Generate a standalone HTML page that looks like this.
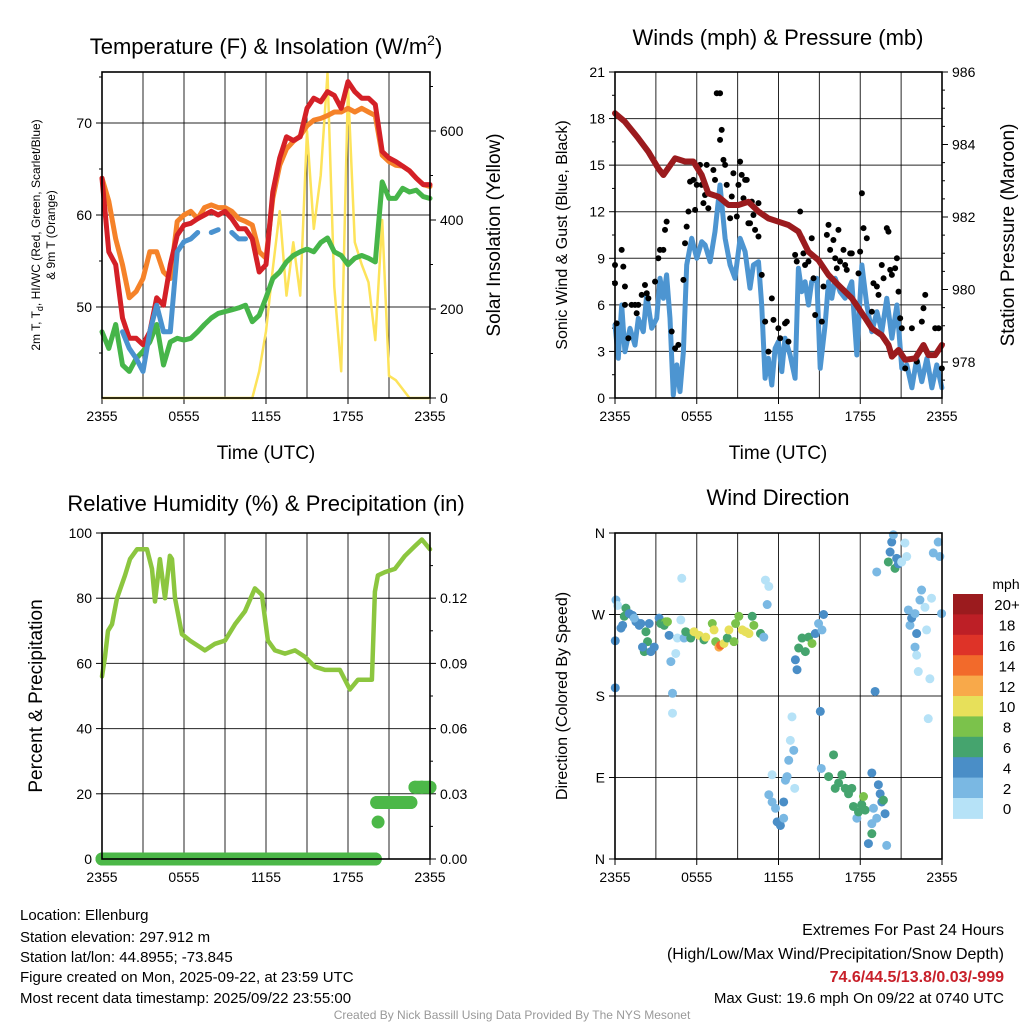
<!DOCTYPE html>
<html><head><meta charset="utf-8"><style>
html,body{margin:0;padding:0;background:#fff;}
svg{display:block;font-family:"Liberation Sans",sans-serif;}
</style></head><body>
<svg id="s" width="1024" height="1024" viewBox="0 0 1024 1024" xmlns="http://www.w3.org/2000/svg">
<g font-size="22" text-anchor="middle" fill="#000">
<text x="266" y="54">Temperature (F) &amp; Insolation (W/m<tspan dy="-9" font-size="14">2</tspan><tspan dy="9">)</tspan></text>
<text x="778" y="45">Winds (mph) &amp; Pressure (mb)</text>
<text x="266" y="511">Relative Humidity (%) &amp; Precipitation (in)</text>
<text x="778" y="505">Wind Direction</text>
</g>
<g fill="#000" text-anchor="middle">
<text x="266" y="459" font-size="19">Time (UTC)</text>
<text x="778" y="459" font-size="19">Time (UTC)</text>
<text transform="translate(40,235) rotate(-90)" font-size="12">2m T, T<tspan dy="3" font-size="9">d</tspan><tspan dy="-3">, HI/WC (Red, Green, Scarlet/Blue)</tspan></text>
<text transform="translate(55,235) rotate(-90)" font-size="12">&amp; 9m T (Orange)</text>
<text transform="translate(500,235) rotate(-90)" font-size="19">Solar Insolation (Yellow)</text>
<text transform="translate(567,235) rotate(-90)" font-size="16">Sonic Wind &amp; Gust (Blue, Black)</text>
<text transform="translate(1014,235) rotate(-90)" font-size="19">Station Pressure (Maroon)</text>
<text transform="translate(42,696) rotate(-90)" font-size="19">Percent &amp; Precipitation</text>
<text transform="translate(567,696) rotate(-90)" font-size="16">Direction (Colored By Speed)</text>
</g>
<g id="plots"></g>
<g font-size="15" fill="#000">
<text x="20" y="920">Location: Ellenburg</text>
<text x="20" y="942">Station elevation: 297.912 m</text>
<text x="20" y="962">Station lat/lon: 44.8955; -73.845</text>
<text x="20" y="982">Figure created on Mon, 2025-09-22, at 23:59 UTC</text>
<text x="20" y="1003">Most recent data timestamp: 2025/09/22 23:55:00</text>
</g>
<g font-size="16" fill="#000" text-anchor="end">
<text x="1004" y="935">Extremes For Past 24 Hours</text>
<text x="1004" y="959">(High/Low/Max Wind/Precipitation/Snow Depth)</text>
<text x="1004" y="982" fill="#c8202a" font-weight="bold">74.6/44.5/13.8/0.03/-999</text>
<text x="1004" y="1003" font-size="15">Max Gust: 19.6 mph On 09/22 at 0740 UTC</text>
</g>
<text x="512" y="1019" font-size="12" fill="#999" text-anchor="middle">Created By Nick Bassill Using Data Provided By The NYS Mesonet</text>
</svg>
<script>
// ---- data ----
const hours = [0,0.5,1,1.5,2,2.5,3,3.5,4,4.5,5,5.5,6,6.5,7,7.5,8,8.5,9,9.5,10,10.5,11,11.5,12,12.5,13,13.5,14,14.5,15,15.5,16,16.5,17,17.5,18,18.5,19,19.5,20,20.5,21,21.5,22,22.5,23,23.5,24];
const tempRed = [64.0,56.0,54.6,48.8,46.6,46.6,45.9,47.3,51.0,50.2,54.6,57.8,58.9,59.1,59.6,60.0,60.4,60.0,60.4,59.6,58.5,58.5,57.4,53.8,54.6,62.5,66.2,68.5,68.1,68.5,71.6,72.7,72.3,73.4,73.0,71.6,74.5,73.4,72.7,72.7,72.0,66.9,66.2,65.8,65.3,64.8,64.0,63.3,63.3];
const temp9m = [64.0,61.5,57.4,54.6,51.0,51.7,53.1,56.0,56.0,53.8,53.1,59.3,60.0,60.4,59.6,60.8,61.1,60.8,60.8,60.4,59.6,59.3,58.9,56.0,55.3,61.8,65.4,67.2,68.0,68.6,69.7,70.3,70.5,70.8,71.2,71.2,71.6,71.2,71.6,71.2,70.8,66.5,65.8,65.4,65.3,64.8,64.0,63.3,63.1];
const dewpoint = [47.3,45.5,48.1,43.7,43.0,44.4,45.2,46.2,48.1,43.7,46.2,46.6,46.4,46.6,47.3,48.1,48.8,49.3,49.5,49.7,49.9,50.2,48.4,49.1,51.0,53.1,53.8,54.9,55.6,56.0,56.3,56.0,57.0,57.5,56.0,55.6,54.6,55.3,55.6,55.3,54.9,63.6,61.8,61.8,62.9,62.5,62.7,62.0,61.8];
const heatIndex = [null,null,null,47.3,45.5,44.4,43.0,47.3,50.2,47.3,47.3,56.0,57.1,57.4,58.1,null,58.1,58.4,null,58.1,57.4,57.4,null,null,null,null,null,null,null,null,null,null,null,null,null,null,null,null,null,null,null,null,null,null,null,null,null,null,null];
const solar = [0,0,0,0,0,0,0,0,0,0,0,0,0,0,0,0,0,0,0,0,0,0,0,60,150,290,420,230,350,230,600,380,500,730,250,60,700,350,300,260,130,400,50,40,20,0,0,0,0];

const windTimes = [0,0.24,0.49,0.73,1.10,1.47,1.71,2.08,2.33,2.69,3.06,3.30,3.55,3.79,4.04,4.28,4.53,4.77,5.02,5.26,5.63,6.00,6.36,6.61,6.98,7.34,7.71,8.08,8.45,8.81,9.18,9.55,9.91,10.16,10.53,10.77,11.02,11.26,11.51,11.75,11.99,12.24,12.48,12.85,13.22,13.46,13.71,13.95,14.20,14.44,14.81,15.06,15.42,15.67,15.91,16.16,16.52,16.89,17.38,17.75,18.12,18.48,18.85,19.22,19.58,19.95,20.32,20.69,21.05,21.42,21.79,22.15,22.52,22.89,23.26,23.62,23.99];
const windSpeeds = [4.70,2.56,5.99,2.98,4.49,3.41,5.13,4.27,6.64,4.49,5.13,7.71,6.42,7.93,5.13,0.19,2.13,0.41,2.98,8.57,10.29,9.0,10.07,9.86,8.78,10.72,13.72,10.29,8.57,7.71,10.29,9.43,7.07,8.57,8.78,5.99,1.27,2.56,0.84,3.2,3.63,1.70,3.85,2.77,1.27,8.36,6.85,7.49,5.99,7.49,7.71,1.91,4.70,7.49,6.42,7.71,6.85,6.42,7.49,2.77,8.57,5.99,4.27,5.56,4.27,6.42,3.85,5.99,1.91,2.13,0.66,2.56,1.05,2.56,0.66,2.13,0.66];
const gustTimes = [0,0,0.12,0.49,0.61,0.73,0.73,0.98,1.22,1.47,1.59,1.71,1.96,2.20,2.33,2.45,2.94,3.18,3.30,3.55,3.67,3.79,4.16,4.41,4.65,5.02,5.14,5.26,5.39,5.51,5.75,5.88,6.00,6.24,6.36,6.49,6.61,6.73,6.85,7.22,7.34,7.47,7.71,7.71,7.83,7.96,8.08,8.20,8.45,8.57,8.69,8.94,9.06,9.18,9.30,9.43,9.55,9.67,9.79,9.91,10.04,10.16,10.28,10.53,10.53,10.77,11.02,11.26,11.51,11.63,11.99,12.12,12.48,12.61,12.73,13.22,13.34,13.59,13.71,13.83,13.95,14.20,14.44,14.57,14.69,15.18,15.30,15.55,15.67,15.79,16.03,16.16,16.28,16.40,16.52,16.77,16.89,17.01,17.26,17.38,17.87,17.99,18.12,18.24,18.48,18.85,18.97,19.22,19.34,19.58,19.71,19.95,20.07,20.20,20.32,20.56,20.69,20.81,20.93,21.05,21.30,21.79,22.15,22.52,22.64,22.77,23.50,23.75,23.99];
const gustSpeeds = [8.57,7.39,4.81,9.54,8.46,7.18,6.00,3.85,6.00,6.00,5.46,6.00,6.64,7.28,6.75,6.42,7.50,9.00,9.54,9.54,10.83,11.36,4.28,3.20,3.42,7.61,9.97,11.04,12.01,13.94,14.05,12.12,13.73,15.02,13.73,12.55,13.08,15.02,12.22,14.69,14.05,19.63,19.63,16.63,17.27,15.34,15.02,13.73,11.58,12.98,14.48,11.69,13.73,15.23,14.37,12.87,14.05,14.05,11.26,11.26,12.65,11.79,10.83,12.55,10.40,7.93,4.92,2.99,6.42,5.03,4.49,3.85,4.81,4.92,3.63,9.22,8.79,12.01,10.29,9.32,8.57,8.79,10.29,7.71,5.35,4.92,7.18,10.51,11.15,9.54,10.18,9.00,8.36,10.83,8.79,9.54,8.57,8.25,9.32,9.32,8.03,9.43,13.19,10.94,10.29,5.56,7.39,7.18,6.64,8.57,7.71,10.94,10.72,8.25,7.93,8.36,9.00,6.85,5.14,4.49,1.91,4.49,2.34,4.92,5.78,6.64,4.49,4.49,1.91];
const presTimes = [0,0.73,1.71,2.45,3.18,3.55,4.41,5.14,5.75,6.36,6.85,7.59,8.32,9.06,9.79,10.53,11.26,11.99,12.73,13.46,14.20,14.93,15.67,16.40,17.38,18.36,18.85,19.58,20.07,20.32,20.81,21.30,22.03,22.64,23.01,23.50,23.99];
const pressure = [984.86,984.63,984.17,983.80,983.34,983.16,983.62,983.53,983.53,983.16,982.65,982.56,982.33,982.33,982.42,982.15,981.96,981.87,981.78,981.60,981.04,980.81,980.40,980.12,979.76,979.21,978.93,978.74,978.47,978.15,978.33,978.06,978.10,978.47,978.19,978.19,978.47];

const rhTimes = [0,0.22,0.44,0.73,1.10,1.68,2.05,2.56,3.29,3.66,3.88,4.24,4.61,4.97,5.12,5.34,5.85,6.44,7.17,7.53,8.27,9.00,9.73,10.46,11.19,11.70,12.14,12.66,13.39,14.12,14.85,15.58,16.31,17.41,18.14,18.73,19.24,19.75,19.97,20.19,20.70,21.43,22.17,22.90,23.41,24];
const rhValues = [56,62,70,72,80,87,92,95,95,89,79,92,80,93,92,80,69,67,65,64,66,67,72,76,83,81,67,64,63,64,62,59,58,58,52,55,55,55,82,87,88,89,93,96,98,95];
const precipTimes = [0,1,2,3,4,5,6,7,8,9,10,11,12,13,14,15,16,17,18,19,20,20.2,20.1,20.6,21.1,21.6,22.1,22.6,22.9,23.4,24];
const precipValues = [0,0,0,0,0,0,0,0,0,0,0,0,0,0,0,0,0,0,0,0,0,0.017,0.026,0.026,0.026,0.026,0.026,0.026,0.033,0.033,0.033];

const dirTimes = [0.07,0.19,0.02,0.02,0.44,0.56,0.80,0.68,1.05,1.29,1.54,1.78,1.90,1.41,2.27,2.39,2.15,2.02,2.63,2.88,2.51,3.24,3.36,3.73,3.61,3.97,3.85,4.10,4.22,4.22,4.46,4.58,4.83,4.90,5.07,5.19,5.56,5.80,6.17,6.53,6.66,7.14,7.27,7.39,7.63,7.75,8.00,8.24,8.36,8.73,8.85,9.09,9.34,9.58,9.83,10.07,10.19,10.68,10.92,11.04,11.29,11.17,11.29,11.53,11.78,11.90,12.14,12.38,12.38,12.51,12.63,12.75,12.87,12.99,13.12,11.53,13.19,13.24,13.36,13.48,13.73,13.97,14.21,14.46,14.70,14.94,15.19,15.31,15.07,15.14,15.68,16.04,16.16,16.41,16.65,16.90,17.14,17.38,17.50,17.75,17.87,18.11,18.24,18.36,18.85,18.97,18.60,18.85,19.21,19.33,19.46,19.58,19.70,19.82,19.94,18.85,19.09,19.21,20.06,20.19,20.31,20.43,20.55,20.80,20.67,21.04,21.28,21.41,21.53,21.65,21.77,22.02,22.14,22.02,22.14,22.26,22.38,22.50,22.75,22.87,23.11,22.99,23.23,23.36,23.72,23.84,23.97];
const dirDegrees = [286,280,241,189,255,258,277,268,271,269,262,258,260,266,251,240,229,234,229,234,260,266,260,262,258,247,262,218,183,161,227,244,264,310,244,251,244,251,247,242,245,260,253,240,234,236,238,244,253,240,260,268,253,251,249,268,258,249,245,308,301,281,71,63,56,41,37,45,63,87,91,109,131,157,120,93,78,220,209,233,244,229,245,238,249,260,253,270,163,100,91,115,78,84,93,78,72,78,58,45,52,60,69,54,39,56,17,28,45,82,72,63,65,50,15,95,185,317,328,339,350,358,321,326,332,328,349,334,275,258,266,271,249,234,225,207,286,297,278,253,199,155,288,338,350,334,271];
const dirSpeeds = [3,1,5,5,5,5,7,7,5,5,5,5,5,3,7,7,7,5,5,5,5,5,7,9,7,5,9,3,3,1,1,1,1,1,3,7,7,11,11,7,11,9,11,9,13,14.5,11,7,11,9,9,9,11,11,11,7,9,7,3,1,1,3,3,3,3,5,5,3,5,3,3,3,1,1,3,1,1,5,5,7,7,7,7,9,5,3,3,5,5,3,7,7,7,7,7,7,7,7,7,3,7,7,9,7,3,3,5,7,3,5,5,5,7,5,3,5,5,3,7,5,5,3,7,5,5,1,1,1,3,3,5,3,5,3,1,1,3,3,1,1,1,1,1,3,3,3,3];

const speedBinLabels = ['0','2','4','6','8','10','12','14','16','18','20+'];
const speedBinColors = ['#b6e2f7','#7ab8e3','#4a8ec7','#45a46e','#7bc24b','#e7e05a','#f8a94a','#f26a2b','#de3328','#bd1f26','#9b1b1e'];
const xTickLabels = ['2355','0555','1155','1755','2355'];
const xTickHours = [0,6,12,18,24];

// ---- helpers ----
const NS='http://www.w3.org/2000/svg';
const root=document.getElementById('plots');
function mk(tag,attrs,parent){const e=document.createElementNS(NS,tag);for(const k in attrs)e.setAttribute(k,attrs[k]);(parent||root).appendChild(e);return e;}
function linPath(xs,ys,fx,fy){let d='',pen=false;for(let i=0;i<xs.length;i++){if(ys[i]==null){pen=false;continue;}d+=(pen?'L':'M')+fx(xs[i]).toFixed(1)+','+fy(ys[i]).toFixed(1);pen=true;}return d;}

function panel(name,x0,x1,y0,y1){
  const g=mk('g',{});
  
  
  const fx=h=>x0+h*(x1-x0)/24;
  // vertical grid every 3 h
  for(let h=3;h<24;h+=3){
    const l=mk('line',{x1:fx(h),x2:fx(h),y1:y0,y2:y1,stroke:'#000','stroke-width':1,opacity:0.85},g);
    
    
  }
  for(let i=0;i<xTickHours.length;i++){
    const x=fx(xTickHours[i]);
    mk('line',{x1:x,x2:x,y1:y1,y2:y1+6,stroke:'#000','stroke-width':1},g);
    const t=mk('text',{x:x,y:y1+23,'font-size':14,'text-anchor':'middle'},g);
    t.textContent=xTickLabels[i];
    
    
  }
  return {g,fx};
}
function frame(g,x0,x1,y0,y1){
  const r=mk('rect',{x:x0,y:y0,width:x1-x0,height:y1-y0,fill:'none',stroke:'#000','stroke-width':1.6},g);
  
  
}
function hgrid(g,x0,x1,y){mk('line',{x1:x0,x2:x1,y1:y,y2:y,stroke:'#000','stroke-width':1,opacity:0.85},g);}
function ytick(g,x,y,label,side,name){
  mk('line',{x1:side<0?x-6:x,x2:side<0?x:x+6,y1:y,y2:y,stroke:'#000','stroke-width':1},g);
  const t=mk('text',{x:side<0?x-10:x+10,y:y+5,'font-size':14,'text-anchor':side<0?'end':'start'},g);
  t.textContent=label;
  
  
}

// ---- Panel 1: temperature ----
(function(){
  const x0=102,x1=430,y0=72,y1=398;
  const {g,fx}=panel('temperature-panel',x0,x1,y0,y1);
  const fyT=T=>123+(70-T)*9.2;
  const fyS=W=>398-W*0.445;
  [70,60,50].forEach(v=>{hgrid(g,x0,x1,fyT(v));ytick(g,x0,fyT(v),String(v),-1,'temp-tick-label');});
  [0,200,400,600].forEach(v=>ytick(g,x1,fyS(v),String(v),1,'solar-tick-label'));
  for(let v=45;v<=75;v+=10) mk('line',{x1:x0-3,x2:x0,y1:fyT(v),y2:fyT(v),stroke:'#000'},g);
  for(let v=100;v<=700;v+=200) mk('line',{x1:x1,x2:x1+3,y1:fyS(v),y2:fyS(v),stroke:'#000'},g);
  const s=mk('path',{d:linPath(hours,solar,fx,fyS),fill:'none',stroke:'#fde35a','stroke-width':2.5,'stroke-linejoin':'round'},g);
  
  
  const gr=mk('path',{d:linPath(hours,dewpoint,fx,fyT),fill:'none',stroke:'#46b549','stroke-width':5,'stroke-linejoin':'round','stroke-linecap':'round'},g);
  
  
  const o=mk('path',{d:linPath(hours,temp9m,fx,fyT),fill:'none',stroke:'#f58229','stroke-width':5,'stroke-linejoin':'round','stroke-linecap':'round'},g);
  
  
  const r=mk('path',{d:linPath(hours,tempRed,fx,fyT),fill:'none',stroke:'#d42027','stroke-width':5,'stroke-linejoin':'round','stroke-linecap':'round'},g);
  
  
  const b=mk('path',{d:linPath(hours,heatIndex,fx,fyT),fill:'none',stroke:'#4a92cf','stroke-width':5,'stroke-linejoin':'round','stroke-linecap':'round'},g);
  
  
  frame(g,x0,x1,y0,y1);
})();

// ---- Panel 2: winds & pressure ----
(function(){
  const x0=615,x1=942,y0=72,y1=398;
  const {g,fx}=panel('winds-panel',x0,x1,y0,y1);
  const fyW=s=>398-s*(326/21);
  const fyP=p=>72+(986-p)*36.25;
  for(let v=0;v<=21;v+=3){ if(v>0&&v<21) hgrid(g,x0,x1,fyW(v)); ytick(g,x0,fyW(v),String(v),-1,'wind-tick-label'); }
  for(let v=1.5;v<21;v+=3) mk('line',{x1:x0-3,x2:x0,y1:fyW(v),y2:fyW(v),stroke:'#000'},g);
  [986,984,982,980,978].forEach(v=>ytick(g,x1,fyP(v),String(v),1,'pressure-tick-label'));
  for(let v=977.5;v<986;v+=0.5) mk('line',{x1:x1,x2:x1+3,y1:fyP(v),y2:fyP(v),stroke:'#000'},g);
  const w=mk('path',{d:linPath(windTimes,windSpeeds,fx,fyW),fill:'none',stroke:'#4d95d1','stroke-width':5,'stroke-linejoin':'round','stroke-linecap':'round'},g);
  
  
  for(let i=0;i<gustTimes.length;i++){
    const c=mk('circle',{cx:fx(gustTimes[i]),cy:fyW(gustSpeeds[i]),r:3,fill:'#000'},g);
    
    
  }
  const p=mk('path',{d:linPath(presTimes,pressure,fx,fyP),fill:'none',stroke:'#9b1b1e','stroke-width':6,'stroke-linejoin':'round','stroke-linecap':'round'},g);
  
  
  frame(g,x0,x1,y0,y1);
})();

// ---- Panel 3: RH & precip ----
(function(){
  const x0=102,x1=430,y0=533,y1=859;
  const {g,fx}=panel('humidity-panel',x0,x1,y0,y1);
  const fyR=v=>859-v*3.26;
  const fyP=v=>859-v*(65.2/0.03);
  [0,20,40,60,80,100].forEach(v=>{ if(v>0&&v<100) hgrid(g,x0,x1,fyR(v)); ytick(g,x0,fyR(v),String(v),-1,'rh-tick-label'); });
  ['0.00','0.03','0.06','0.09','0.12'].forEach(v=>ytick(g,x1,fyP(parseFloat(v)),v,1,'precip-tick-label'));
  for(let v=0.015;v<0.15;v+=0.03) mk('line',{x1:x1,x2:x1+3,y1:fyP(v),y2:fyP(v),stroke:'#000'},g);
  const r=mk('path',{d:linPath(rhTimes,rhValues,fx,fyR),fill:'none',stroke:'#8cc63f','stroke-width':4.5,'stroke-linejoin':'round','stroke-linecap':'round'},g);
  
  
  for(let i=0;i<precipTimes.length;i++){
    if(i>0&&precipValues[i]===precipValues[i-1]){
      const l=mk('line',{x1:fx(precipTimes[i-1]),x2:fx(precipTimes[i]),y1:fyP(precipValues[i]),y2:fyP(precipValues[i]),stroke:'#4cb848','stroke-width':13,'stroke-linecap':'round'},g);
      
      
    }
    const c=mk('circle',{cx:fx(precipTimes[i]),cy:fyP(precipValues[i]),r:6.5,fill:'#4cb848'},g);
    
    
  }
  frame(g,x0,x1,y0,y1);
})();

// ---- Panel 4: wind direction ----
(function(){
  const x0=615,x1=942,y0=533,y1=859;
  const {g,fx}=panel('wind-direction-panel',x0,x1,y0,y1);
  const fyD=d=>859-d*326/360;
  const dirLabels=['N','E','S','W','N'];
  [0,90,180,270,360].forEach((v,i)=>{ if(v>0&&v<360) hgrid(g,x0,x1,fyD(v)); ytick(g,x0,fyD(v),dirLabels[i],-1,'direction-tick-label'); });
  for(let i=0;i<dirTimes.length;i++){
    const bin=Math.min(10,Math.floor(dirSpeeds[i]/2));
    const c=mk('circle',{cx:fx(dirTimes[i]),cy:fyD(dirDegrees[i]),r:4.5,fill:speedBinColors[bin]},g);
    
    
  }
  frame(g,x0,x1,y0,y1);
  // colorbar
  const cb=mk('g',{});
  
  
  const t=mk('text',{x:1006,y:589,'font-size':14,'text-anchor':'middle'},cb);
  t.textContent='mph';
  
  
  const n=speedBinLabels.length,top=594,h=20.4;
  for(let i=0;i<n;i++){
    const k=n-1-i;
    const r=mk('rect',{x:953,y:top+i*h,width:30,height:h+0.5,fill:speedBinColors[k]},cb);
    
    
    const l=mk('text',{x:1007,y:top+i*h+h/2+6,'font-size':15,'text-anchor':'middle'},cb);
    l.textContent=speedBinLabels[k];
    
    
  }
})();
</script>
</body></html>
